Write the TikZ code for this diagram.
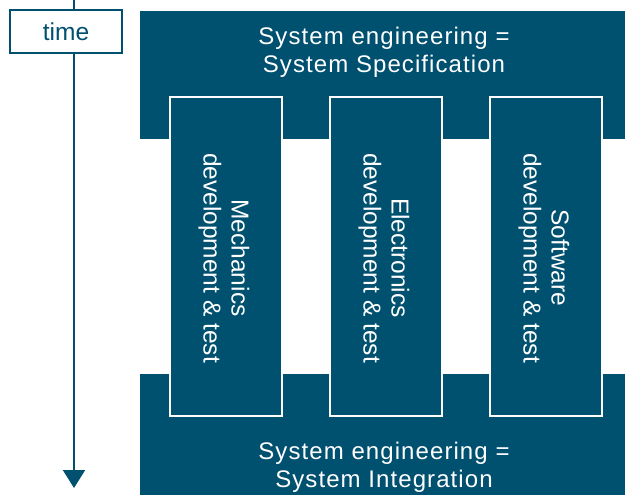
\documentclass[tikz,border=0pt]{standalone}
\usepackage{fontspec}
\setmainfont{Liberation Sans}
\usetikzlibrary{arrows.meta}
\definecolor{deepblue}{HTML}{00506F}
\begin{document}
\begin{tikzpicture}[x=1pt,y=-1pt,
  bigbox/.style={fill=deepblue,draw=none},
  colbox/.style={fill=deepblue,draw=white,line width=1.6pt},
  boxtext/.style={text=white,align=center,inner sep=0pt,font=\fontsize{24}{28}\selectfont\addfontfeatures{LetterSpace=4.5}},
  coltext/.style={text=white,align=center,inner sep=0pt,rotate=-90,font=\fontsize{24.5}{28}\selectfont},
  timebox/.style={draw=deepblue,fill=white,line width=1.8pt,minimum width=112pt,minimum height=43pt,inner sep=0pt,font=\fontsize{24.5}{28}\selectfont,text=deepblue}]
\useasboundingbox (0,0) rectangle (625,495);
% time arrow
\coordinate (tstart) at (74,0);
\coordinate (tend) at (74,488);
\draw[deepblue,line width=2pt,-{Triangle[length=18pt,width=22pt]}] (tstart) -- (tend);
\node[timebox] (time) at (66,31.5) {time};
% big boxes
\path[bigbox] (140,11) rectangle (625,139);
\path[bigbox] (140,374) rectangle (625,495);
\node[boxtext] (spec) at (384,52.5) {System engineering =\\System Specification};
\node[boxtext] (integ) at (384,467) {System engineering =\\System Integration};
% columns
\node[colbox,minimum width=112pt,minimum height=319pt,inner sep=0pt] (mech) at (226,256.5) {};
\node[colbox,minimum width=112pt,minimum height=319pt,inner sep=0pt] (elec) at (386,256.5) {};
\node[colbox,minimum width=112pt,minimum height=319pt,inner sep=0pt] (soft) at (546,256.5) {};
\node[coltext] (mecht) at (224,258) {Mechanics\\development \& test};
\node[coltext] (elect) at (384,258) {Electronics\\development \& test};
\node[coltext] (softt) at (544,258) {Software\\development \& test};
\end{tikzpicture}
\end{document}
